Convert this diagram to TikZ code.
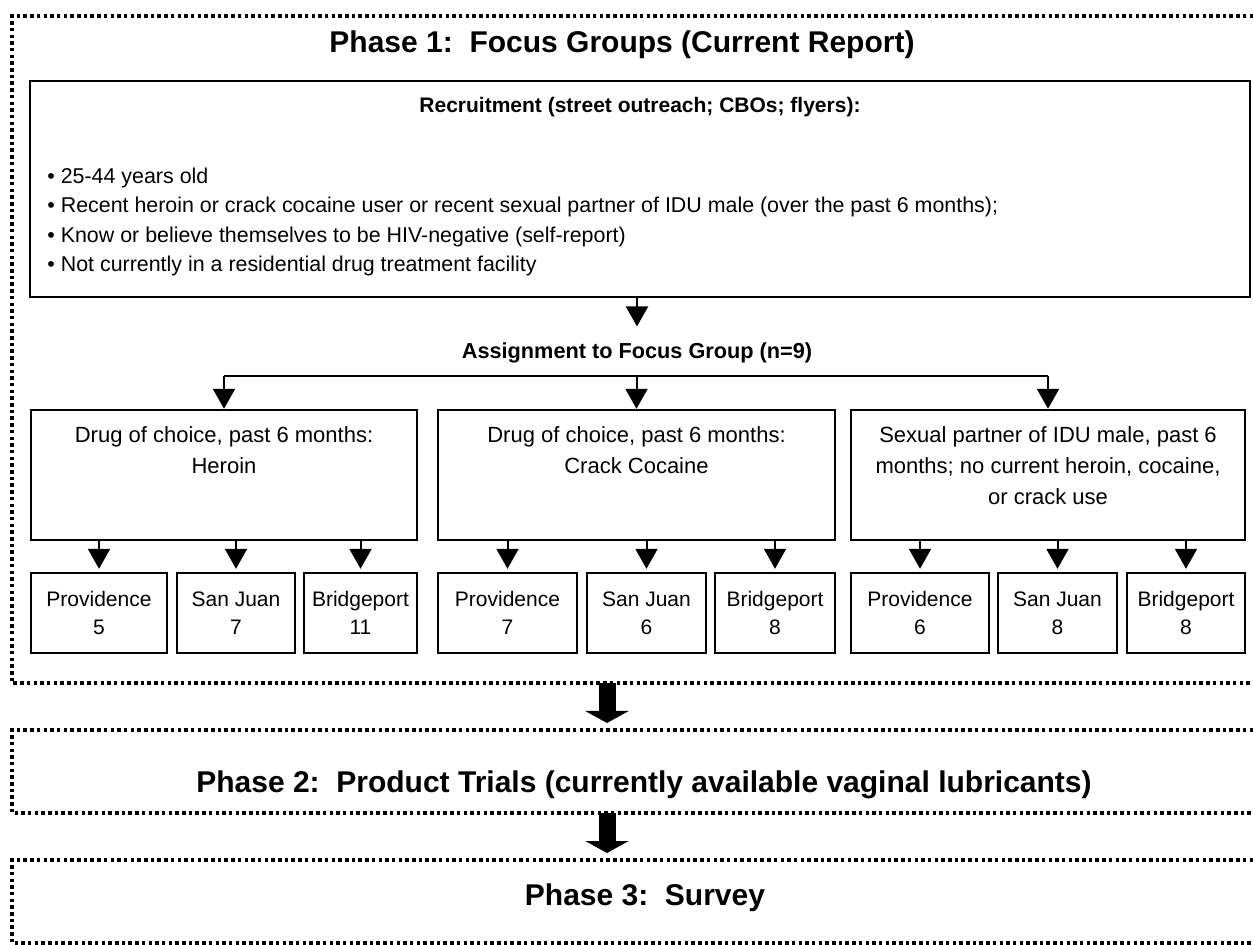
\documentclass[tikz,border=0pt]{standalone}
\usepackage{fontspec}
\setmainfont{Liberation Sans}
\usetikzlibrary{arrows.meta}
\begin{document}
\begin{tikzpicture}[x=0.5pt,y=-0.5pt,
  frame/.style={line width=1.75pt, dash pattern=on 1.75pt off 1.6pt},
  box/.style={draw, line width=1.2pt, inner sep=0pt},
  conn/.style={line width=1pt},
  arr/.style={line width=1pt, -{Triangle[width=11pt,length=10pt]}},
  bigarr/.style={line width=8.5pt, -{Triangle[width=21.5pt,length=6pt]}},
  title/.style={font=\fontsize{15}{18}\selectfont\bfseries, inner sep=0pt},
  hdr/.style={font=\fontsize{10.5}{13}\selectfont\bfseries, inner sep=0pt},
  body/.style={font=\fontsize{11}{15.5}\selectfont, align=center, inner sep=0pt},
  city/.style={box, font=\fontsize{10.5}{14}\selectfont, align=center, minimum height=40pt}
]
\useasboundingbox (0,0) rectangle (1253,945);

% dotted phase frames (open on the right)
\draw[frame] (1253,16) -- (12,16) -- (12,683) -- (1253,683);
\draw[frame] (1253,730) -- (12,730) -- (12,813) -- (1253,813);
\draw[frame] (1253,860) -- (12,860) -- (12,943) -- (1253,943);
\coordinate (f1b) at (607,683);
\coordinate (f2t) at (607,730);
\coordinate (f2b) at (607,813);
\coordinate (f3t) at (607,860);

% titles
\node[title] (t1) at (622,45) {Phase 1:\ \ Focus Groups (Current Report)};
\node[title] (t2) at (644,785) {Phase 2:\ \ Product Trials (currently available vaginal lubricants)};
\node[title] (t3) at (645,898) {Phase 3:\ \ Survey};

% recruitment
\node[box, minimum width=610pt, minimum height=108pt] (rec) at (640,189) {};
\node[hdr] (rech) at (640,107) {Recruitment (street outreach; CBOs; flyers):};
\node[anchor=west, align=left, inner sep=0pt, font=\fontsize{10.7}{14.65}\selectfont] (bul) at (47,222)
  {• 25-44 years old\\
   • Recent heroin or crack cocaine user or recent sexual partner of IDU male (over the past 6 months);\\
   • Know or believe themselves to be HIV-negative (self-report)\\
   • Not currently in a residential drug treatment facility};

% assignment
\node[font=\fontsize{10.85}{13}\selectfont\bfseries, inner sep=0pt] (asg) at (637,353) {Assignment to Focus Group (n=9)};
\draw[arr, shorten >=8pt] (rec.south -| asg.north) -- (asg.north);

% group boxes
\node[box, minimum width=193pt, minimum height=65pt] (m1) at (224,475) {};
\node[box, minimum width=198.5pt, minimum height=65pt] (m2) at (636.5,475) {};
\node[box, minimum width=197pt, minimum height=65pt] (m3) at (1048,475) {};
\node[body, anchor=north] (m1t) at (224,426) {Drug of choice, past 6 months:\\Heroin};
\node[body, anchor=north] (m2t) at (636.5,426) {Drug of choice, past 6 months:\\Crack Cocaine};
\node[body, anchor=north] (m3t) at (1048,426) {Sexual partner of IDU male, past 6\\months; no current heroin, cocaine,\\or crack use};

\coordinate (hl) at (637,376);
\draw[conn] (m1.north |- hl) -- (m3.north |- hl);
\foreach \m in {m1,m2,m3} \draw[arr] (\m.north |- hl) -- (\m.north);

% city boxes
\node[city, minimum width=68pt] (p1) at (99,613) {Providence\\5};
\node[city, minimum width=59pt] (s1) at (236,613) {San Juan\\7};
\node[city, minimum width=56.5pt] (b1) at (360.5,613) {Bridgeport\\11};
\node[city, minimum width=69.5pt] (p2) at (507.5,613) {Providence\\7};
\node[city, minimum width=59.5pt] (s2) at (646.5,613) {San Juan\\6};
\node[city, minimum width=60pt] (b2) at (775,613) {Bridgeport\\8};
\node[city, minimum width=69pt] (p3) at (920,613) {Providence\\6};
\node[city, minimum width=59.5pt] (s3) at (1057.5,613) {San Juan\\8};
\node[city, minimum width=59pt] (b3) at (1186,613) {Bridgeport\\8};

\foreach \g/\c in {m1/p1,m1/s1,m1/b1,m2/p2,m2/s2,m2/b2,m3/p3,m3/s3,m3/b3}
  \draw[arr, shorten >=1.5pt] (\g.south -| \c.north) -- (\c.north);

% phase arrows
\draw[bigarr, shorten >=3.5pt] (f1b) -- (f2t);
\draw[bigarr, shorten >=3.5pt] (f2b) -- (f3t);
\end{tikzpicture}
\end{document}
